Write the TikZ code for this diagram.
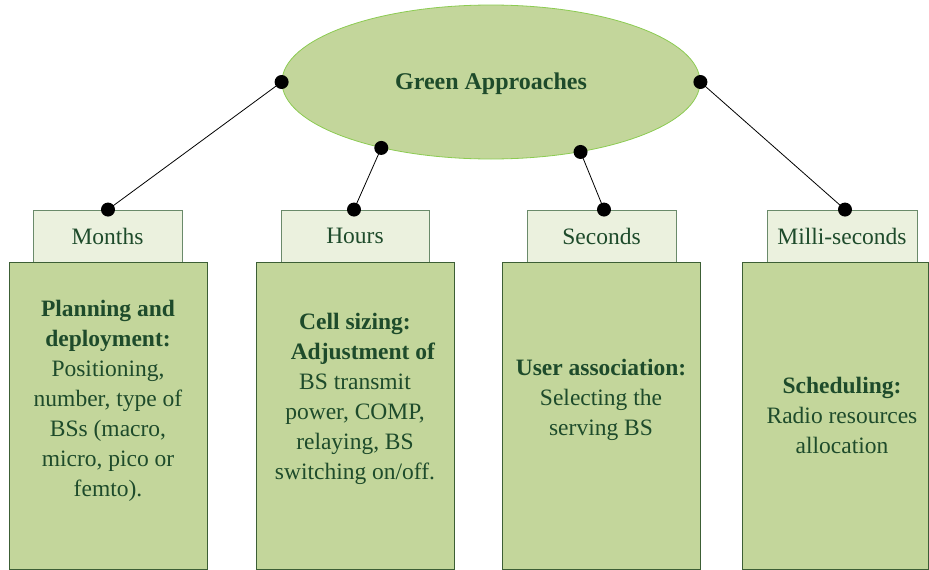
\documentclass[tikz,border=0pt]{standalone}
\usepackage{fontspec}
\setmainfont{Liberation Serif}
\usetikzlibrary{shapes.geometric}
\definecolor{ellfill}{HTML}{C3D69B}
\definecolor{ellline}{HTML}{8CCB52}
\definecolor{bigfill}{HTML}{C3D69B}
\definecolor{bigline}{HTML}{3C5E35}
\definecolor{smallfill}{HTML}{EBF1DE}
\definecolor{smallline}{HTML}{6A8A6A}
\definecolor{txt}{HTML}{1E4B2B}
\begin{document}
\begin{tikzpicture}[x=1pt,y=-1pt,
  bigbox/.style={draw=bigline, fill=bigfill, line width=0.9pt, minimum width=198pt, minimum height=307pt, inner sep=0pt},
  smallbox/.style={draw=smallline, fill=smallfill, line width=0.9pt, minimum height=52pt, inner sep=0pt, text=txt, font=\fontsize{23.5}{28}\selectfont},
  body/.style={align=center, text=txt, font=\fontsize{23.5}{30}\selectfont, inner sep=0pt},
  dotnode/.style={circle, fill=black, minimum size=14pt, inner sep=0pt},
  conn/.style={draw=black, line width=0.8pt}]
\useasboundingbox (0,0) rectangle (929,570);
% ellipse
\node[ellipse, fill=ellfill, draw=ellline, line width=0.8pt, minimum width=418pt, minimum height=154pt, inner sep=0pt, text=txt, font=\fontsize{24}{28}\selectfont\bfseries, text height=17pt, text depth=2pt] (ell) at (491,82) {Green Approaches};
% small label boxes
\node[smallbox, minimum width=149pt] (s1) at (107.5,236) {Months};
\node[smallbox, minimum width=148pt] (s2) at (355,236) {Hours};
\node[smallbox, minimum width=149pt] (s3) at (601.5,236) {Seconds};
\node[smallbox, minimum width=150pt] (s4) at (842,236) {Milli-seconds};
% big boxes
\node[bigbox] (b1) at (108,415.5) {};
\node[bigbox] (b2) at (355,415.5) {};
\node[bigbox] (b3) at (601,415.5) {};
\node[bigbox, minimum width=186pt] (b4) at (835,415.5) {};
% texts
\node[body] (t1) at (108,401) {\textbf{Planning and}\\\textbf{deployment:}\\Positioning,\\number, type of\\BSs (macro,\\micro, pico or\\femto).};
\node[body] (t2) at (355,399) {\textbf{Cell sizing:}\\\hspace*{16pt}\textbf{Adjustment of}\\BS transmit\\power, COMP,\\relaying, BS\\switching on/off.};
\node[body] (t3) at (601,400) {\textbf{User association:}\\Selecting the\\serving BS};
\node[body] (t4) at (842,415) {\textbf{Scheduling:}\\Radio resources\\allocation};
% connector end points
\coordinate (a1) at (ell.180);
\coordinate (a2) at (ell.211);
\coordinate (a3) at (ell.322);
\coordinate (a4) at (ell.0);
\coordinate (c1) at (s1.north -| 108,0);
\coordinate (c2) at (s2.north -| 354,0);
\coordinate (c3) at (s3.north -| 604,0);
\coordinate (c4) at (s4.north -| 845,0);
\draw[conn] (a1) -- (c1);
\draw[conn] (a2) -- (c2);
\draw[conn] (a3) -- (c3);
\draw[conn] (a4) -- (c4);
\foreach \p in {a1,a2,a3,a4,c1,c2,c3,c4} \node[dotnode] at (\p) {};
\end{tikzpicture}
\end{document}
